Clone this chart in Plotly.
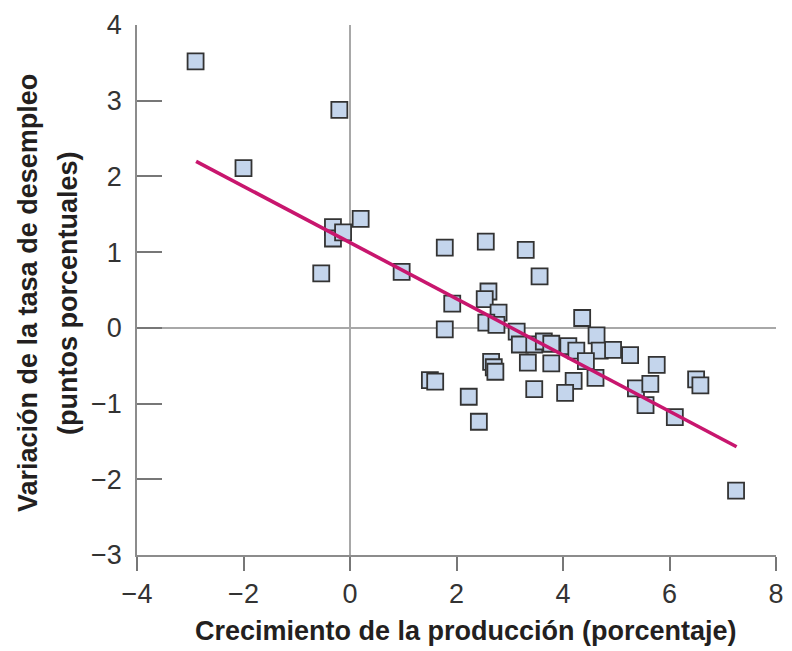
import plotly.graph_objects as go

# Data
growth = [-2.9, -2.0, -0.2, -0.32, -0.32, -0.13, 0.2, -0.54, 0.97, 1.78,
          2.55, 3.30, 3.56, 1.92, 1.78, 2.60, 2.53, 2.79, 2.56, 2.75,
          3.13, 3.19, 3.46, 3.64, 3.78, 4.10, 4.25, 4.36, 4.63, 4.69,
          4.94, 5.26, 5.76, 2.65, 2.70, 2.73, 3.34, 3.78, 4.43, 4.20,
          4.61, 1.50, 1.60, 2.23, 2.42, 3.46, 4.04, 5.37, 5.64, 5.55,
          6.10, 6.50, 6.58, 7.25]
unemp_change = [3.52, 2.11, 2.88, 1.33, 1.18, 1.26, 1.44, 0.72, 0.74, 1.06,
                1.14, 1.03, 0.68, 0.32, -0.02, 0.48, 0.38, 0.20, 0.07, 0.04,
                -0.05, -0.22, -0.22, -0.18, -0.21, -0.24, -0.30, 0.13, -0.10, -0.30,
                -0.29, -0.36, -0.49, -0.45, -0.52, -0.58, -0.46, -0.47, -0.44, -0.70,
                -0.66, -0.69, -0.71, -0.91, -1.24, -0.81, -0.86, -0.80, -0.74, -1.02,
                -1.18, -0.68, -0.76, -2.15]

fit_x = [-2.89, 7.26]
fit_y = [2.20, -1.57]

x_ticks = [-4, -2, 0, 2, 4, 6, 8]
y_ticks = [-3, -2, -1, 0, 1, 2, 3, 4]

x_title = "Crecimiento de la producción (porcentaje)"
y_title_1 = "Variación de la tasa de desempleo"
y_title_2 = "(puntos porcentuales)"

FONT = "Liberation Sans, Arial, Helvetica, sans-serif"
TEXT = "#231f20"

fig = go.Figure()
fig.add_trace(go.Scatter(
    x=growth, y=unemp_change, mode="markers",
    marker=dict(symbol="square", size=16, color="#c4d5ec",
                line=dict(color="#333333", width=1.8)),
    hoverinfo="x+y", showlegend=False))
fig.add_trace(go.Scatter(
    x=fit_x, y=fit_y, mode="lines",
    line=dict(color="#c8166e", width=3.6),
    showlegend=False, hoverinfo="skip"))

# page body has an 8px margin; keep the figure inside the window width
fig.update_layout(
    width=776, height=643,
    margin=dict(l=129, r=8, t=17, b=96),
    paper_bgcolor="white", plot_bgcolor="white",
    font=dict(family=FONT, color=TEXT, size=24),
    xaxis=dict(range=[-4, 8], tickvals=x_ticks, showgrid=False, automargin=False,
               showline=True, linecolor="#8c8c8c", linewidth=1.5,
               ticks="outside", ticklen=14, tickcolor="#777777", tickwidth=1.5,
               ticklabeloverflow="allow",
               zeroline=True, zerolinecolor="#a8a8a8", zerolinewidth=1.5,
               tickfont=dict(size=27, family=FONT, color="#333333")),
    yaxis=dict(range=[-3, 4], tickvals=y_ticks, showgrid=False, automargin=False,
               showline=True, linecolor="#8c8c8c", linewidth=1.5,
               ticks="inside", ticklen=25, tickcolor="#777777", tickwidth=1.5,
               ticklabelstandoff=8, ticklabeloverflow="allow",
               zeroline=True, zerolinecolor="#a8a8a8", zerolinewidth=1.5,
               tickfont=dict(size=27, family=FONT, color="#333333")),
    annotations=[
        dict(text="<b>%s</b>" % x_title, xref="paper", yref="paper", x=0.5, y=0,
             xanchor="center", yanchor="middle", xshift=9, yshift=-76,
             showarrow=False, font=dict(size=27, family=FONT, color=TEXT)),
        dict(text="<b>%s</b>" % y_title_1, xref="paper", yref="paper", x=0, y=0.5,
             xanchor="center", yanchor="middle", xshift=-109, yshift=-3, textangle=-90,
             showarrow=False, font=dict(size=27, family=FONT, color=TEXT)),
        dict(text="<b>%s</b>" % y_title_2, xref="paper", yref="paper", x=0, y=0.5,
             xanchor="center", yanchor="middle", xshift=-69, yshift=-3, textangle=-90,
             showarrow=False, font=dict(size=27, family=FONT, color=TEXT)),
    ],
)

fig.write_html("out.html")
